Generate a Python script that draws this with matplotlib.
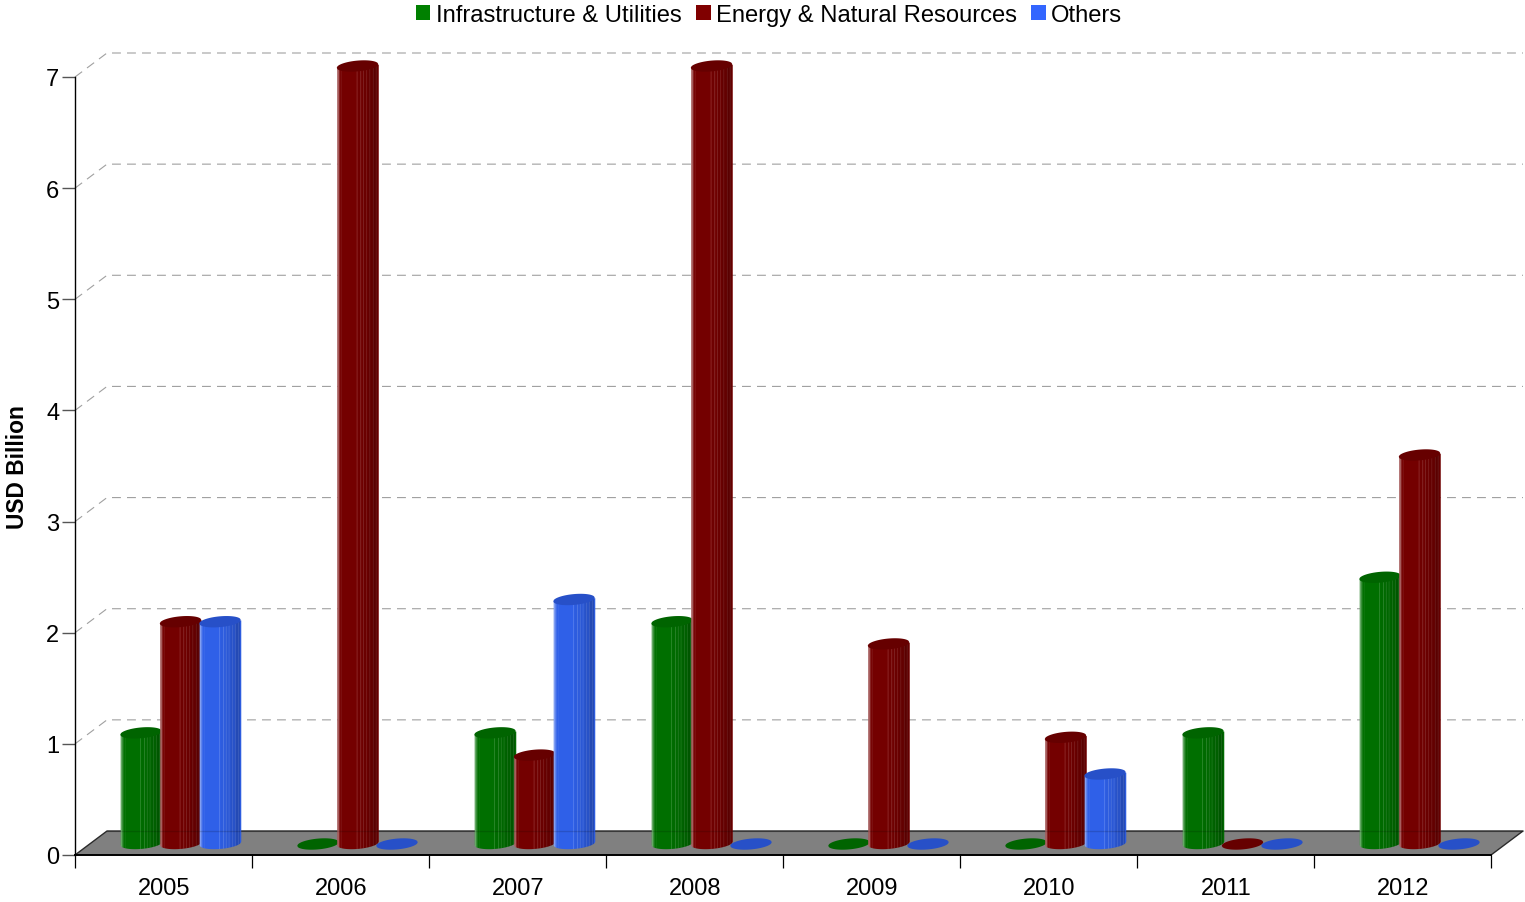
import numpy as np
import matplotlib
matplotlib.use("Agg")
import matplotlib.pyplot as plt
from matplotlib.patches import Patch

years = ["2005", "2006", "2007", "2008", "2009", "2010", "2011", "2012"]
infrastructure = [1.0, 0, 1.0, 2.0, 0, 0, 1.0, 2.4]
energy = [2.0, 7.0, 0.8, 7.0, 1.8, 0.96, 0, 3.5]
others = [2.0, 0, 2.2, 0, 0, 0.63, 0, 0]
series_names = ["Infrastructure & Utilities", "Energy & Natural Resources", "Others"]

legend_colors = ["#008000", "#800000", "#3366ff"]
side_colors = ["#006f00", "#740000", "#2f60e8"]
top_colors = ["#006400", "#660000", "#2750c8"]

plt.rcParams["font.family"] = ["Liberation Sans", "DejaVu Sans"]

W, H = 1525, 903
fig = plt.figure(figsize=(W / 100, H / 100), dpi=100)
ax = fig.add_axes([75 / W, 1 - 856 / H, (1491 - 75) / W, (856 - 78) / H])
ax.set_xlim(0, 8)
ax.set_ylim(0, 7)

# pixel sizes turned into data units
px_x = 8 / (1491 - 75)
px_y = 7 / (856 - 78)
depth_x, depth_y = 32 * px_x, 24 * px_y
shift_x, shift_y = 17 * px_x, 11 * px_y
bar_step = 39.5 * px_x
bar_w = 41.5 * px_x
ry = 5.4 * px_y
tilt = 1.8 * px_y

# back wall grid
for v in range(1, 8):
    ax.plot([0, depth_x, 8 + depth_x], [v, v + depth_y, v + depth_y],
            color="#a0a0a0", lw=0.8, dashes=(8, 5.5), clip_on=False, zorder=1)

# floor
ax.fill([0, depth_x, 8 + depth_x, 8], [0, depth_y, depth_y, 0],
        facecolor="#808080", edgecolor="none", clip_on=False, zorder=1)
ax.plot([0, depth_x, 8 + depth_x, 8], [0, depth_y, depth_y, 0],
        color="#2b2b2b", lw=1.0, clip_on=False, zorder=1.5)

# thin light stripes across a cylinder: (position, width, alpha)
stripes = [(0.0, 0.04, 0.40), (0.04, 0.03, 0.14),
           (0.10, 0.012, 0.12), (0.47, 0.015, 0.24),
           (0.56, 0.015, 0.24), (0.63, 0.015, 0.20),
           (0.70, 0.012, 0.20), (0.78, 0.012, 0.20),
           (0.86, 0.012, 0.18), (0.93, 0.012, 0.18)]
dark_bands = [(0.5, 0.62, 0.04), (0.62, 0.74, 0.08), (0.74, 0.86, 0.14),
              (0.86, 0.97, 0.22), (0.97, 1.0, 0.04)]


def cylinder(xc, value, j):
    base = shift_y + px_y
    top = value + shift_y
    t = np.linspace(-1, 1, 60)
    xs = xc + t * bar_w / 2
    arc = np.sqrt(1 - t ** 2)
    if value > 0:
        ax.fill_between(xs, base - ry * arc + tilt * t, top + tilt * t, color=side_colors[j],
                        lw=0, clip_on=False, zorder=3 + j)

        def band(a, b, color, alpha):
            band_t = np.linspace(2 * a - 1, 2 * b - 1, 12)
            bx = xc + band_t * bar_w / 2
            low = base - ry * np.sqrt(np.clip(1 - band_t ** 2, 0, 1)) + tilt * band_t
            ax.fill_between(bx, low, top + tilt * band_t, color=color, alpha=alpha,
                            lw=0, clip_on=False, zorder=3 + j)

        for a, b, alpha in dark_bands:
            band(a, b, "black", alpha)
        for pos, width, alpha in stripes:
            band(pos, pos + width, "white", alpha)

    # top cap, the only thing drawn for a zero value
    ax.fill(np.r_[xs, xs[::-1]],
            np.r_[top + ry * arc + tilt * t, (top - ry * arc + tilt * t)[::-1]],
            color=top_colors[j], lw=0, clip_on=False, zorder=3 + j)


for j, values in enumerate([infrastructure, energy, others]):
    for i, value in enumerate(values):
        cylinder(i + 0.5 + (j - 1) * bar_step + shift_x, value, j)

# floor back edge shows faintly through the bars
ax.plot([depth_x, 8 + depth_x], [depth_y, depth_y], color="black", lw=1.0, alpha=0.15,
        zorder=7, clip_on=False)

# axes
for side in ["top", "right"]:
    ax.spines[side].set_visible(False)
ax.spines["left"].set_linewidth(1.0)
ax.spines["bottom"].set_linewidth(1.4)
ax.patch.set_alpha(0)

ax.set_yticks(range(8))
ax.tick_params(axis="y", length=9.4, width=1.0, color="#555555", labelsize=17, pad=2)
ax.set_xticks(range(9))
ax.set_xticklabels([])
ax.tick_params(axis="x", which="major", length=9.4, width=0.9)
ax.set_xticks(np.arange(8) + 0.5 + 0.7 * px_x, minor=True)
ax.set_xticklabels(years, minor=True)
ax.tick_params(axis="x", which="minor", length=0, labelsize=17, pad=15.7)

fig.text(18 / W, 1 - 467 / H, "USD Billion", rotation=90, fontsize=16.4, fontweight="bold",
         ha="center", va="center")

handles = [Patch(facecolor=c, edgecolor="none") for c in legend_colors]
fig.legend(handles, series_names, loc="center", bbox_to_anchor=(769 / W, 1 - 16 / H), ncol=3,
           frameon=False, fontsize=17.1, handlelength=0.63, handleheight=0.63,
           handletextpad=0.22, columnspacing=0.6, borderpad=0, borderaxespad=0)

fig.savefig("out.png", dpi=100)
